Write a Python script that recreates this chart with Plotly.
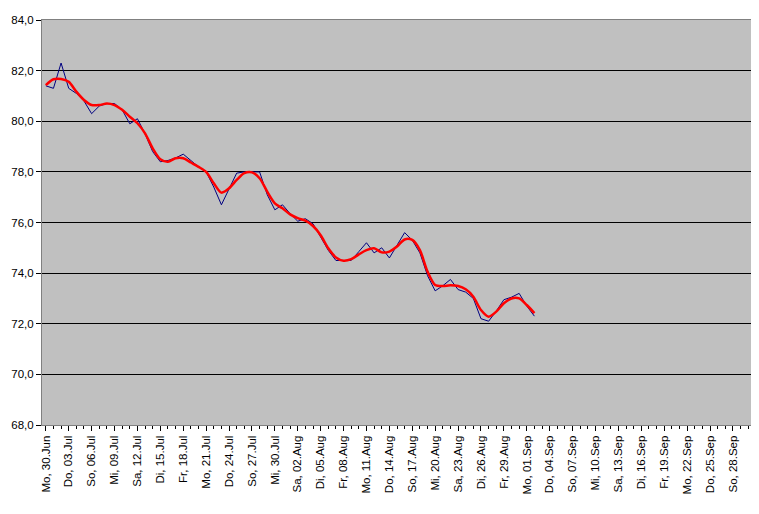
import datetime as dt
import plotly.graph_objects as go

start_date = "2008-06-30"
# daily measured values (blue), Jun 30 .. Sep 2
raw_values = [81.4, 81.3, 82.3, 81.3, 81.1, 80.8, 80.3, 80.6, 80.7, 80.7,
              80.45, 79.9, 80.1, 79.5, 78.8, 78.4, 78.45, 78.55, 78.7, 78.45,
              78.2, 78.0, 77.4, 76.7, 77.3, 77.95, 78.0, 78.0, 78.0, 77.1,
              76.5, 76.7, 76.35, 76.05, 76.15, 75.95, 75.4, 74.9, 74.5, 74.5,
              74.5, 74.85, 75.2, 74.8, 75.0, 74.6, 75.1, 75.6, 75.3, 74.8,
              73.9, 73.3, 73.5, 73.75, 73.35, 73.25, 73.0, 72.2, 72.1, 72.5,
              72.95, 73.05, 73.2, 72.7, 72.3]
# smoothed trend (red)
trend_values = [81.43, 81.66, 81.67, 81.56, 81.17, 80.84, 80.64, 80.64, 80.7, 80.64,
                80.45, 80.18, 79.92, 79.52, 78.93, 78.5, 78.4, 78.54, 78.54, 78.37,
                78.2, 78.0, 77.55, 77.18, 77.35, 77.68, 77.95, 77.98, 77.75, 77.22,
                76.76, 76.56, 76.32, 76.17, 76.07, 75.86, 75.5, 74.98, 74.62, 74.49,
                74.55, 74.74, 74.91, 74.98, 74.82, 74.85, 75.05, 75.33, 75.31, 74.91,
                74.06, 73.53, 73.49, 73.52, 73.49, 73.36, 73.07, 72.54, 72.28, 72.48,
                72.81, 73.0, 73.0, 72.74, 72.42]
weekday_names = ["Mo", "Di", "Mi", "Do", "Fr", "Sa", "So"]
month_names = {6: "Jun", 7: "Jul", 8: "Aug", 9: "Sep"}
axis_days = 93          # Jun 30 .. Sep 30
label_step = 3
y_ticks = [68, 70, 72, 74, 76, 78, 80, 82, 84]

d0 = dt.date.fromisoformat(start_date)
dates = [d0 + dt.timedelta(days=i) for i in range(len(raw_values))]
tick_dates = [d0 + dt.timedelta(days=i) for i in range(0, axis_days, label_step)]
tick_text = [f"{weekday_names[d.weekday()]}, {d.day:02d}.{month_names[d.month]}" for d in tick_dates]

x_start = dt.datetime.combine(d0, dt.time()) - dt.timedelta(hours=12)
x_end = x_start + dt.timedelta(days=axis_days)

fig = go.Figure()
fig.add_trace(go.Scatter(x=dates, y=raw_values, mode="lines",
                         line=dict(color="#000080", width=1), showlegend=False))
fig.add_trace(go.Scatter(x=dates, y=trend_values, mode="lines",
                         line=dict(color="#FF0000", width=2.5, shape="spline", smoothing=0.8),
                         showlegend=False))

font = dict(family="Liberation Sans, Arial, sans-serif", size=11.5, color="black")
fig.update_layout(
    width=751, height=506,
    margin=dict(l=34, r=7, t=12, b=89),
    paper_bgcolor="white", plot_bgcolor="#C0C0C0",
    font=font, separators=",.",
    xaxis=dict(type="date", range=[x_start, x_end], tickmode="array",
               tickvals=tick_dates, ticktext=tick_text, tickangle=-90,
               ticks="outside", ticklen=5, tickcolor="black",
               minor=dict(dtick=86400000, tick0=start_date, ticks="outside",
                          ticklen=3, tickcolor="black", showgrid=False),
               showgrid=False, showline=True, linecolor="#808080", linewidth=1,
               mirror=True, zeroline=False, tickfont=font, automargin=False),
    yaxis=dict(range=[68, 84], tickmode="array", tickvals=y_ticks,
               tickformat=".1f", ticks="outside", ticklen=5, tickcolor="black",
               showgrid=True, gridcolor="black", gridwidth=1,
               showline=True, linecolor="#808080", linewidth=1, mirror=True,
               zeroline=False, tickfont=font, automargin=False),
)
fig.write_html("out.html")
